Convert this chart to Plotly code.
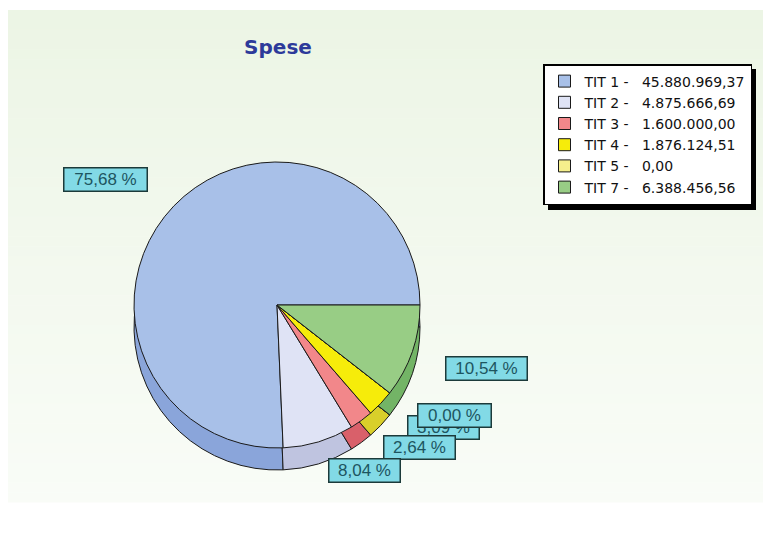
import plotly.graph_objects as go

# ---- data ----
categories = ["TIT 1", "TIT 2", "TIT 3", "TIT 4", "TIT 5", "TIT 7"]
values = [45880969.37, 4875666.69, 1600000.00, 1876124.51, 0.00, 6388456.56]
title_text = "Spese"

# ---- styles ----
face_colors = ["#a8c0e8", "#dfe3f5", "#f2878a", "#f6ec0a", "#f5ef8c", "#98cd85"]
side_colors = ["#8aa5da", "#bfc4e0", "#d9606a", "#d9cf2a", "#d8d070", "#73b466"]

W, H = 771, 547
OFF = 8  # page body margin: screen px -> figure px


def PX(sx):
    return (sx - OFF) / W


def PY(sy):
    return 1 - (sy - OFF) / H


def it_num(v):
    s = f"{v:,.2f}"
    return s.replace(",", "X").replace(".", ",").replace("X", ".")


total = sum(values)
pcts = [v / total * 100 for v in values]
pct_text = [f"{p:.2f}".replace(".", ",") + " %" for p in pcts]
NB = "\u00a0"
legend_labels = [f"{c}{NB}-{NB}{NB}{NB}{it_num(v)}" for c, v in zip(categories, values)]

# first slice (TIT 1) starts at 3 o'clock and runs counterclockwise
rot = 90 + 360 * (1 - values[0] / total)

# pie geometry (screen pixels)
cx, cy, r, depth = 277, 305, 143, 22


def dom(cx_, cy_, r_):
    return dict(x=[PX(cx_ - r_), PX(cx_ + r_)],
                y=[PY(cy_ + r_), PY(cy_ - r_)])


fig = go.Figure()

# side wall (offset pie behind)
fig.add_trace(go.Pie(
    labels=legend_labels, values=values, sort=False,
    direction="counterclockwise", rotation=rot,
    marker=dict(colors=side_colors, line=dict(color="#1a1a1a", width=1)),
    textinfo="none", hoverinfo="skip", showlegend=False,
    domain=dom(cx, cy + depth, r),
))
# top face
fig.add_trace(go.Pie(
    labels=legend_labels, values=values, sort=False,
    direction="counterclockwise", rotation=rot,
    marker=dict(colors=face_colors, line=dict(color="#1a1a1a", width=1)),
    textinfo="none", hovertemplate="%{label}<extra></extra>",
    domain=dom(cx, cy, r),
))

# background gradient panel
shapes = []
x0, x1, y0, y1 = 8, 768, 10, 502
top_rgb = (236, 245, 229)
bot_rgb = (249, 252, 247)
n = 50
for i in range(n):
    t = i / (n - 1)
    col = tuple(round(a + (b - a) * t) for a, b in zip(top_rgb, bot_rgb))
    ya = y0 + (y1 - y0) * i / n
    yb = y0 + (y1 - y0) * (i + 1) / n + 0.5
    shapes.append(dict(type="rect", xref="paper", yref="paper", layer="below",
                       x0=PX(x0), x1=PX(x1), y0=PY(yb), y1=PY(ya),
                       fillcolor=f"rgb{col}", line=dict(width=0)))

# legend shadow
shapes.append(dict(type="rect", xref="paper", yref="paper", layer="below",
                   x0=PX(548), x1=PX(756), y0=PY(210), y1=PY(69),
                   fillcolor="#000000", line=dict(width=0)))

# percentage labels
label_pos = [(105, 179), (364, 470), (419, 447), (443, 427), (454, 415), (486, 368)]
label_w = [80, 68, 68, 68, 70, 78]
draw_order = [5, 3, 4, 2, 1, 0]
annotations = []
for i in draw_order:
    px, py = label_pos[i]
    annotations.append(dict(
        text=pct_text[i], xref="paper", yref="paper",
        x=PX(px), y=PY(py), xanchor="center", yanchor="middle",
        showarrow=False, width=label_w[i], height=20, borderpad=1,
        bgcolor="#82dae6", bordercolor="#1c3a3a", borderwidth=1.5,
        font=dict(family="Liberation Sans, Arial", size=17, color="#1d5560"),
    ))

fig.update_layout(
    width=W, height=H, autosize=False,
    margin=dict(l=0, r=0, t=0, b=0),
    paper_bgcolor="white", plot_bgcolor="white",
    title=dict(text=f"<b>{title_text}</b>", x=PX(278), xanchor="center",
               y=PY(47), yanchor="middle",
               font=dict(family="DejaVu Sans, Verdana", size=20, color="#2d3a9a")),
    legend=dict(x=PX(543), y=PY(64), xanchor="left", yanchor="top",
                bgcolor="white", bordercolor="#000000", borderwidth=1.5,
                font=dict(family="DejaVu Sans", size=14, color="#111111"),
                traceorder="normal"),
    shapes=shapes,
    annotations=annotations,
)

fig.write_html("out.html")
